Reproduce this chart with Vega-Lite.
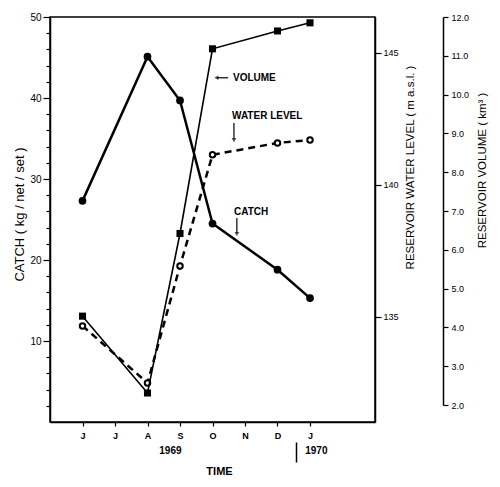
{
  "$schema": "https://vega.github.io/schema/vega-lite/v6.json",
  "width": 325,
  "height": 405,
  "autosize": {"type": "none"},
  "padding": {"left": 50, "top": 17, "right": 125, "bottom": 65},
  "background": "white",
  "config": {
    "view": {"stroke": "black", "strokeWidth": 1.5},
    "axis": {"grid": false, "domainColor": "black", "domainWidth": 1.5, "tickColor": "black", "tickWidth": 1.2, "labelColor": "black", "titleColor": "black", "labelFont": "Liberation Sans", "titleFont": "Liberation Sans"},
    "text": {"font": "Liberation Sans"}
  },
  "datasets": {
    "series": [
      {"m": 1, "catch": 27.3, "level": 134.66, "volume": 4.29},
      {"m": 3, "catch": 45.1, "level": 132.5, "volume": 2.31},
      {"m": 4, "catch": 39.7, "level": 136.93, "volume": 6.42},
      {"m": 5, "catch": 24.5, "level": 141.14, "volume": 11.18},
      {"m": 7, "catch": 18.8, "level": 141.59, "volume": 11.64},
      {"m": 8, "catch": 15.3, "level": 141.7, "volume": 11.85}
    ],
    "notes": [
      {"label": "VOLUME", "tx": 5.63, "ty": 42.5},
      {"label": "WATER LEVEL", "tx": 5.6, "ty": 37.8},
      {"label": "CATCH", "tx": 5.66, "ty": 25.9}
    ],
    "arrowsH": [
      {"x1": 5.48, "x2": 5.14, "y1": 42.5, "y2": 42.5, "hx": 5.12, "hy": 42.5}
    ],
    "arrowsV": [
      {"x1": 5.66, "x2": 5.66, "y1": 36.9, "y2": 35.0, "hx": 5.66, "hy": 34.8},
      {"x1": 5.75, "x2": 5.75, "y1": 25.2, "y2": 23.4, "hx": 5.75, "hy": 23.2}
    ]
  },
  "layer": [
    {
      "layer": [
        {
          "data": {"name": "series"},
          "mark": {"type": "line", "color": "black", "strokeWidth": 2.5, "point": {"filled": true, "fill": "black", "size": 60}},
          "encoding": {
            "x": {
              "field": "m", "type": "quantitative",
              "scale": {"domain": [0, 10], "nice": false, "zero": false},
              "axis": {
                "orient": "bottom",
                "values": [1, 2, 3, 4, 5, 6, 7, 8], "tickCount": 100,
                "labelExpr": "['','J','J','A','S','O','N','D','J'][datum.value]",
                "title": null, "tickSize": 4, "labelFontSize": 9, "labelFontWeight": "bold", "labelPadding": 5
              }
            },
            "y": {
              "field": "catch", "type": "quantitative",
              "scale": {"domain": [0, 50], "nice": false},
              "axis": {
                "orient": "left",
                "values": [2, 4, 6, 8, 12, 14, 16, 18, 22, 24, 26, 28, 32, 34, 36, 38, 42, 44, 46, 48],
                "tickCount": 100,
                "labels": false, "tickSize": 4, "title": null
              }
            }
          }
        },
        {
          "data": {"name": "notes"},
          "mark": {"type": "text", "align": "left", "baseline": "middle", "fontSize": 10, "fontWeight": "bold", "color": "black"},
          "encoding": {
            "x": {"field": "tx", "type": "quantitative"},
            "y": {
              "field": "ty", "type": "quantitative",
              "axis": {
                "orient": "left", "values": [10, 20, 30, 40, 50], "tickCount": 100, "format": "d", "tickSize": 7, "labelPadding": 2, "labelFontSize": 10, "domain": false,
                "title": "CATCH ( kg / net / set )", "titleFontSize": 13, "titleFontWeight": "normal", "titlePadding": 3, "titleY": 197
              }
            },
            "text": {"field": "label"}
          }
        },
        {
          "data": {"name": "arrowsH"},
          "mark": {"type": "rule", "color": "black", "strokeWidth": 1.2},
          "encoding": {
            "x": {"field": "x1", "type": "quantitative"}, "x2": {"field": "x2"},
            "y": {"field": "y1", "type": "quantitative", "axis": null}, "y2": {"field": "y2"}
          }
        },
        {
          "data": {"name": "arrowsH"},
          "mark": {"type": "point", "shape": "triangle-left", "filled": true, "color": "black", "size": 22},
          "encoding": {
            "x": {"field": "hx", "type": "quantitative"},
            "y": {"field": "hy", "type": "quantitative", "axis": null}
          }
        },
        {
          "data": {"name": "arrowsV"},
          "mark": {"type": "rule", "color": "black", "strokeWidth": 1.2},
          "encoding": {
            "x": {"field": "x1", "type": "quantitative"}, "x2": {"field": "x2"},
            "y": {"field": "y1", "type": "quantitative", "axis": null}, "y2": {"field": "y2"}
          }
        },
        {
          "data": {"name": "arrowsV"},
          "mark": {"type": "point", "shape": "triangle-down", "filled": true, "color": "black", "size": 22},
          "encoding": {
            "x": {"field": "hx", "type": "quantitative"},
            "y": {"field": "hy", "type": "quantitative", "axis": null}
          }
        }
      ],
      "resolve": {"axis": {"y": "independent"}}
    },
    {
      "data": {"name": "series"},
      "mark": {"type": "line", "color": "black", "strokeWidth": 2.5, "strokeDash": [7, 5], "point": {"filled": false, "fill": "white", "stroke": "black", "strokeWidth": 2, "size": 30}},
      "encoding": {
        "x": {
          "field": "m", "type": "quantitative",
          "axis": {
            "orient": "bottom",
            "values": [3.69, 7.57, 8.18], "tickCount": 100,
            "labelExpr": "datum.value < 5 ? '1969' : (datum.value > 8 ? '1970' : '')",
            "offset": 20, "domain": false, "tickSize": 20, "tickWidth": 1.5,
            "tickColor": {"condition": {"test": "datum.value > 7 && datum.value < 8", "value": "black"}, "value": "transparent"},
            "labelPadding": -17, "labelFontSize": 10, "labelFontWeight": "bold",
            "title": "TIME", "titleFontSize": 11, "titleFontWeight": "bold", "titlePadding": 3, "titleX": 169
          }
        },
        "y": {
          "field": "level", "type": "quantitative",
          "scale": {"domain": [131.02, 146.36], "nice": false, "zero": false},
          "axis": {
            "orient": "right", "values": [135, 140, 145], "tickCount": 100, "format": "d", "tickSize": 6, "labelPadding": 2, "labelFontSize": 9,
            "title": "RESERVOIR WATER LEVEL ( m a.s.l. )", "titleAngle": 270, "titleBaseline": "top", "titleFontSize": 11.5, "titleFontWeight": "normal",
            "titleY": 150, "titlePadding": 6
          }
        }
      }
    },
    {
      "data": {"name": "series"},
      "mark": {"type": "line", "color": "black", "strokeWidth": 1.6, "point": {"shape": "square", "filled": true, "fill": "black", "size": 50}},
      "encoding": {
        "x": {"field": "m", "type": "quantitative", "axis": null},
        "y": {
          "field": "volume", "type": "quantitative",
          "scale": {"domain": [2, 12], "range": [388, 0], "nice": false, "zero": false},
          "axis": {
            "orient": "right", "offset": 68, "values": [2,3,4,5,6,7,8,9,10,11,12], "tickCount": 100,
            "labelExpr": "format(datum.value, '.1f')",
            "tickSize": 5, "labelPadding": 3, "labelFontSize": 9,
            "title": "RESERVOIR VOLUME ( km³ )", "titleAngle": 270, "titleBaseline": "top", "titleFontSize": 11.5, "titleFontWeight": "normal",
            "titleY": 153, "titlePadding": 8
          }
        }
      }
    }
  ],
  "resolve": {"scale": {"y": "independent"}, "axis": {"x": "independent"}}
}
